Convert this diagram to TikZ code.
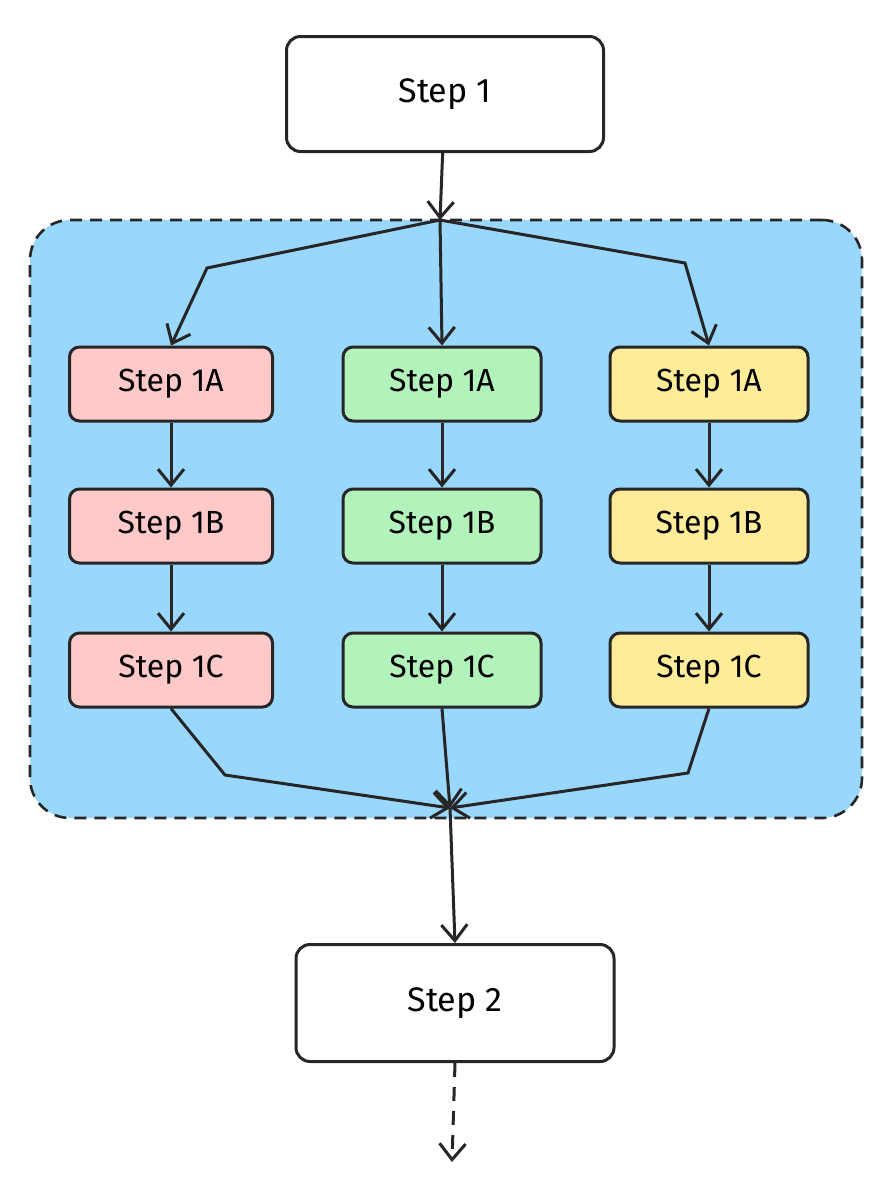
\documentclass[tikz,border=0pt]{standalone}
\usepackage{fontspec}
\setmainfont{Fira Sans}
\usetikzlibrary{arrows.meta}
\definecolor{bluebg}{HTML}{99D8FC}
\definecolor{redf}{HTML}{FFC9C9}
\definecolor{greenf}{HTML}{B2F2BB}
\definecolor{yellowf}{HTML}{FFEC99}
\begin{document}
\begin{tikzpicture}[x=1pt,y=-1pt,
 box/.style={draw=black!85,line width=3pt,rounded corners=14pt,font=\fontsize{34}{36}\selectfont},
 sub/.style={draw=black!85,line width=3pt,rounded corners=10pt,font=\fontsize{32}{34}\selectfont},
 arr/.style={draw=black!85,line width=3pt,-{Straight Barb[length=16pt,width=26pt]}}]
\useasboundingbox (0,0) rectangle (885,1184);
\node[draw=black!85,dash pattern=on 12pt off 8pt,line width=2.6pt,fill=bluebg,rounded corners=40pt,minimum width=832pt,minimum height=598pt] (grp) at (446,519) {};
\node[box,fill=white,minimum width=317pt,minimum height=115pt] (s1) at (445,94) {Step 1};
\node[box,fill=white,minimum width=318pt,minimum height=117pt] (s2) at (455,1003) {Step 2};
\foreach \n/\x/\c/\w in {r/171/redf/203,g/442/greenf/198,y/709/yellowf/198}{
 \node[sub,fill=\c,minimum width=\w pt,minimum height=74pt] (\n a) at (\x,384) {Step 1A};
 \node[sub,fill=\c,minimum width=\w pt,minimum height=74pt] (\n b) at (\x,526) {Step 1B};
 \node[sub,fill=\c,minimum width=\w pt,minimum height=74pt] (\n c) at (\x,670) {Step 1C};
 \draw[arr] (\n a) -- (\n b);
 \draw[arr] (\n b) -- (\n c);
}
\coordinate (split) at (440,220);
\coordinate (merge) at (450,808);
\coordinate (end) at (452,1162);
\draw[arr] (s1) -- (split);
\draw[arr] (split) -- (207,268) -- (ra.north);
\draw[arr] (split) -- (ga.north);
\draw[arr] (split) -- (685,263) -- (ya.north);
\draw[arr] (rc.south) -- (225,775) -- (merge);
\draw[arr] (gc.south) -- (merge);
\draw[arr] (yc.south) -- (688,773) -- (merge);
\draw[arr] (merge) -- (s2.north);
\draw[arr,dash pattern=on 14pt off 10pt] (s2.south) -- (end);
\end{tikzpicture}
\end{document}
